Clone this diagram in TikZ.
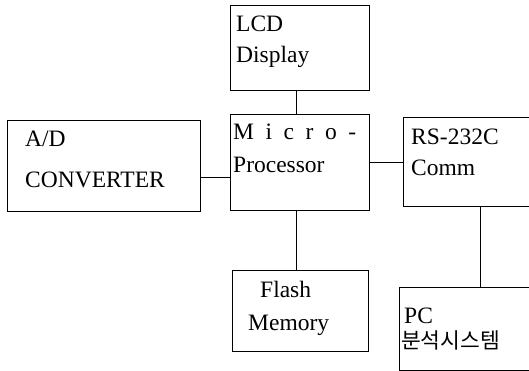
\documentclass[tikz,border=0pt]{standalone}
\usepackage{fontspec}
\setmainfont{Liberation Serif}
\newfontfamily\krfont{Noto Sans CJK KR}
\begin{document}
\begin{tikzpicture}[x=1pt,y=-1pt,
  blk/.style={draw, line width=0.9pt, rectangle, inner sep=0pt, anchor=north west},
  txt/.style={anchor=base west, inner sep=0pt, font=\fontsize{23.5}{28}\selectfont},
  wire/.style={line width=0.9pt}]
\useasboundingbox (0,0) rectangle (529,371);
\clip (0,0) rectangle (529,371);
% boxes
\node[blk, minimum width=139pt, minimum height=85pt] (lcd) at (230,5) {};
\node[blk, minimum width=139pt, minimum height=96pt] (mp) at (230,114) {};
\node[blk, minimum width=193pt, minimum height=91pt] (ad) at (7,120) {};
\node[blk, minimum width=140pt, minimum height=89pt] (rs) at (403,117) {};
\node[blk, minimum width=136pt, minimum height=81pt] (fl) at (232,270) {};
\node[blk, minimum width=140pt, minimum height=83pt] (pc) at (399,287) {};
% texts
\node[txt] (lcd1) at (236,32) {LCD};
\node[txt] (lcd2) at (236,63) {Display};
\node[txt] (mp1) at (233,140) {\makebox[123pt][s]{M i c r o -}};
\node[txt] (mp2) at (233,173) {Processor};
\node[txt] (ad1) at (25,147) {A/D};
\node[txt] (ad2) at (25,188) {CONVERTER};
\node[txt] (rs1) at (411,145) {RS-232C};
\node[txt] (rs2) at (411,176) {Comm};
\node[txt] (fl1) at (260,297) {Flash};
\node[txt] (fl2) at (248,330) {Memory};
\node[txt] (pc1) at (404,323) {PC};
\node[anchor=base west, inner sep=0pt, font=\krfont\fontsize{21.5}{26}\selectfont] (pc2) at (401,348) {분석시스템};
% connectors
\coordinate (cx) at (296,0);
\coordinate (cy1) at (0,177);
\coordinate (cy2) at (0,162);
\coordinate (cx2) at (480,0);
\draw[wire] (lcd.south -| cx) -- (mp.north -| cx);
\draw[wire] (mp.south -| cx) -- (fl.north -| cx);
\draw[wire] (ad.east |- cy1) -- (mp.west |- cy1);
\draw[wire] (mp.east |- cy2) -- (rs.west |- cy2);
\draw[wire] (rs.south -| cx2) -- (pc.north -| cx2);
\end{tikzpicture}
\end{document}
